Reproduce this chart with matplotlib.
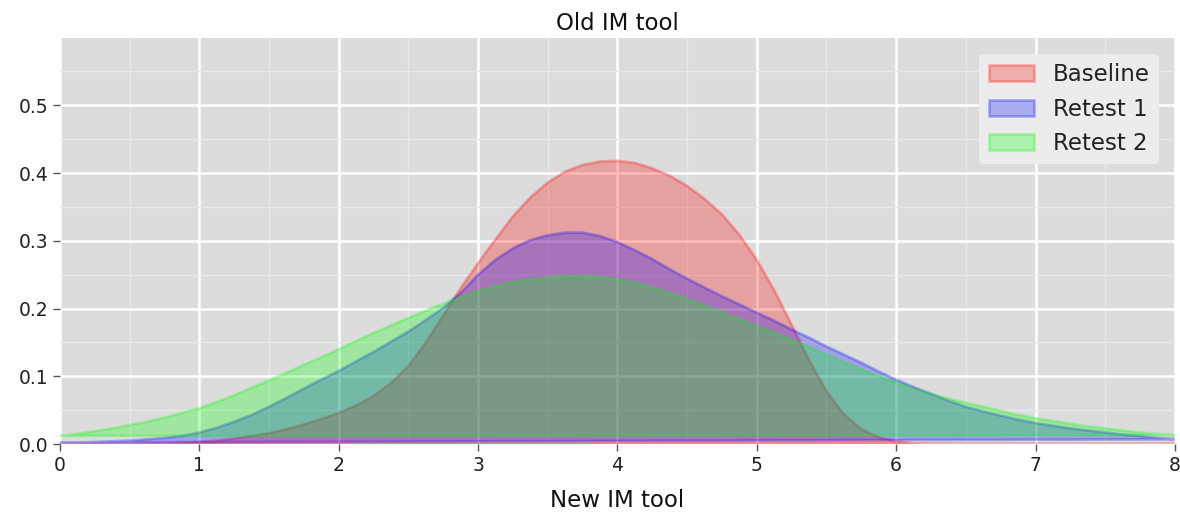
import matplotlib.pyplot as plt
from matplotlib.ticker import MultipleLocator

# Density curves sampled on a common score grid (step 0.125)
scores = [0.0, 0.125, 0.25, 0.375, 0.5, 0.625, 0.75, 0.875,
          1.0, 1.125, 1.25, 1.375, 1.5, 1.625, 1.75, 1.875,
          2.0, 2.125, 2.25, 2.375, 2.5, 2.625, 2.75, 2.875,
          3.0, 3.125, 3.25, 3.375, 3.5, 3.625, 3.75, 3.875,
          4.0, 4.125, 4.25, 4.375, 4.5, 4.625, 4.75, 4.875,
          5.0, 5.125, 5.25, 5.375, 5.5, 5.625, 5.75, 5.875,
          6.0, 6.125, 6.25, 6.375, 6.5, 6.625, 6.75, 6.875,
          7.0, 7.125, 7.25, 7.375, 7.5, 7.625, 7.75, 7.875, 8.0]

baseline = [0.000, 0.000, 0.000, 0.000, 0.000, 0.001, 0.001, 0.002,
            0.003, 0.005, 0.008, 0.012, 0.016, 0.022, 0.029, 0.037,
            0.046, 0.057, 0.071, 0.090, 0.115, 0.150, 0.190, 0.230,
            0.267, 0.302, 0.336, 0.364, 0.386, 0.402, 0.412, 0.417,
            0.418, 0.415, 0.407, 0.396, 0.381, 0.362, 0.339, 0.309,
            0.272, 0.227, 0.176, 0.124, 0.078, 0.044, 0.022, 0.010,
            0.004, 0.001, 0.000, 0.000, 0.000, 0.000, 0.000, 0.000,
            0.000, 0.000, 0.000, 0.000, 0.000, 0.000, 0.000, 0.000, 0.000]

retest1 = [0.002, 0.002, 0.003, 0.004, 0.005, 0.007, 0.009, 0.012,
           0.017, 0.024, 0.033, 0.043, 0.055, 0.068, 0.082, 0.095,
           0.108, 0.122, 0.136, 0.151, 0.166, 0.183, 0.201, 0.223,
           0.250, 0.272, 0.289, 0.301, 0.308, 0.312, 0.312, 0.307,
           0.298, 0.286, 0.273, 0.258, 0.244, 0.231, 0.218, 0.206,
           0.194, 0.182, 0.169, 0.157, 0.144, 0.132, 0.120, 0.107,
           0.095, 0.084, 0.074, 0.064, 0.055, 0.048, 0.042, 0.036,
           0.031, 0.027, 0.023, 0.020, 0.017, 0.014, 0.012, 0.009, 0.007]

retest2 = [0.012, 0.015, 0.019, 0.023, 0.028, 0.033, 0.039, 0.046,
           0.053, 0.062, 0.072, 0.083, 0.094, 0.105, 0.117, 0.128,
           0.140, 0.152, 0.164, 0.175, 0.186, 0.197, 0.207, 0.217,
           0.226, 0.233, 0.239, 0.243, 0.246, 0.248, 0.248, 0.246,
           0.243, 0.238, 0.231, 0.223, 0.214, 0.204, 0.194, 0.184,
           0.174, 0.164, 0.154, 0.143, 0.132, 0.121, 0.110, 0.100,
           0.091, 0.082, 0.074, 0.067, 0.061, 0.055, 0.049, 0.043,
           0.038, 0.034, 0.030, 0.026, 0.023, 0.020, 0.017, 0.015, 0.013]

labels = ['Baseline', 'Retest 1', 'Retest 2']
colors = ['red', 'blue', 'lime']

fig = plt.figure(figsize=(11.8, 5.16), dpi=100)
ax = fig.add_axes([0.0508, 0.1395, 0.9449, 0.7865])
ax.set_facecolor('#dcdcdc')
ax.set_axisbelow(True)

for series, label, color in zip([baseline, retest1, retest2], labels, colors):
    ax.fill(scores, series, facecolor=color, edgecolor=color, alpha=0.27,
            linewidth=2, label=label)

ax.set_xlim(0, 8)
ax.set_ylim(0, 0.599)
ax.xaxis.set_major_locator(MultipleLocator(1))
ax.xaxis.set_minor_locator(MultipleLocator(0.5))
ax.yaxis.set_major_locator(MultipleLocator(0.1))
ax.yaxis.set_minor_locator(MultipleLocator(0.05))

ax.grid(which='major', color='white', linewidth=1.8)
ax.grid(which='minor', color='#e9e9e9', linewidth=1.0)
for spine in ax.spines.values():
    spine.set_visible(False)

ax.tick_params(which='major', direction='out', length=5, width=1,
               color='#555555', labelcolor='#222222', labelsize=13.5)
ax.tick_params(which='minor', length=0)

ax.set_title('Old IM tool', fontsize=16.5, color='#111111', pad=6)
ax.set_xlabel('New IM tool', fontsize=16.5, color='#111111', labelpad=10)

leg = ax.legend(loc='upper right', fontsize=16.5, facecolor='#ececec',
                edgecolor='none', framealpha=1, borderaxespad=0.7)
for text in leg.get_texts():
    text.set_color('#222222')

fig.savefig('out.png', dpi=100)
